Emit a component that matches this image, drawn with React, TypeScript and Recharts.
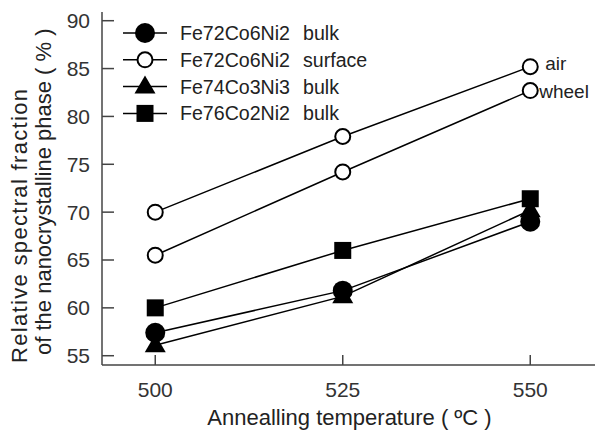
import { Label, Legend, Line, LineChart, XAxis, YAxis } from 'recharts'

const temps = [500, 525, 550]
const bulk7262 = [57.4, 61.8, 69.0]
const surfAir = [70.0, 77.9, 85.2]
const surfWheel = [65.5, 74.2, 82.7]
const bulk7433 = [56.1, 61.2, 70.2]
const bulk7622 = [60.0, 66.0, 71.4]

const xTicks = [500, 525, 550]
const yTicks = [55, 60, 65, 70, 75, 80, 85, 90]

const legendAlloys = ['Fe72Co6Ni2', 'Fe72Co6Ni2', 'Fe74Co3Ni3', 'Fe76Co2Ni2']
const legendKinds = ['bulk', 'surface', 'bulk', 'bulk']
const legendMarkers = ['filledCircle', 'openCircle', 'triangle', 'square']

const data = temps.map((t, i) => ({
  t,
  bulk7262: bulk7262[i],
  surfAir: surfAir[i],
  surfWheel: surfWheel[i],
  bulk7433: bulk7433[i],
  bulk7622: bulk7622[i],
}))

const FONT = '"Liberation Sans", Arial, Helvetica, sans-serif'
const INK = '#222'
const AXIS = '#444'

function marker(kind: string, cx: number, cy: number, key?: number | string) {
  if (kind === 'filledCircle') return <circle key={key} cx={cx} cy={cy} r={10} fill="#000" />
  if (kind === 'openCircle')
    return <circle key={key} cx={cx} cy={cy} r={7.5} fill="#fff" stroke="#000" strokeWidth={2} />
  if (kind === 'triangle')
    return (
      <polygon key={key} points={`${cx},${cy - 11} ${cx - 10.5},${cy + 7} ${cx + 10.5},${cy + 7}`} fill="#000" />
    )
  return <rect key={key} x={cx - 8.5} y={cy - 8.5} width={17} height={17} fill="#000" />
}

const dotOf = (kind: string) => (props: any) => {
  const { cx, cy, index } = props
  if (cx == null || cy == null) return <g key={index} />
  return marker(kind, cx, cy, index)
}

const endLabel = (text: string, dx: number, dy: number) => (props: any) => {
  const { x, y, index } = props
  if (index !== 2) return null
  return (
    <text x={x + dx} y={y + dy} fill={INK} fontSize={19} fontFamily={FONT} dominantBaseline="central">
      {text}
    </text>
  )
}

function LegendBox() {
  return (
    <svg width={270} height={120} style={{ display: 'block' }}>
      {legendAlloys.map((name, i) => {
        const cy = 12 + i * 26.8
        return (
          <g key={i}>
            <line x1={3} x2={47} y1={cy} y2={cy} stroke="#000" strokeWidth={1.5} />
            {marker(legendMarkers[i], 25, cy)}
            <text x={60} y={cy} fontSize={19.6} fontFamily={FONT} fill={INK} dominantBaseline="central">
              {name}
            </text>
            <text x={183} y={cy} fontSize={19.6} fontFamily={FONT} fill={INK} dominantBaseline="central">
              {legendKinds[i]}
            </text>
          </g>
        )
      })}
    </svg>
  )
}

function YTitle() {
  return (
    <g fill={INK} fontFamily={FONT} fontSize={22}>
      <text transform="translate(27,363) rotate(-90)" textLength={274} lengthAdjust="spacing">
        Relative spectral fraction
      </text>
      <text transform="translate(51,355) rotate(-90)">of the nanocrystalline phase ( % )</text>
    </g>
  )
}

export default function App() {
  const tickStyle = { fontSize: 21, fontFamily: FONT, fill: '#333' }
  return (
    <div style={{ position: 'absolute', left: 0, top: 0, width: 600, height: 431, background: '#fff' }}>
      <LineChart width={600} height={431} data={data} margin={{ top: 12, right: 3, left: 2, bottom: 0 }}>
        <XAxis
          dataKey="t"
          type="number"
          domain={[492.9, 558.9]}
          ticks={xTicks}
          allowDataOverflow
          height={66}
          tickSize={-10}
          tickMargin={27}
          tick={tickStyle}
          stroke={AXIS}
          strokeWidth={1.5}
        >
          <Label
            value="Annealling temperature ( ºC )"
            position="insideBottom"
            offset={6}
            style={{ fontSize: 22, fontFamily: FONT, fill: INK }}
          />
        </XAxis>
        <XAxis
          xAxisId="top"
          orientation="top"
          dataKey="t"
          type="number"
          domain={[492.9, 558.9]}
          ticks={xTicks}
          allowDataOverflow
          height={0}
          tickLine={false}
          tickFormatter={() => ''}
          stroke={AXIS}
          strokeWidth={1.5}
        />
        <YAxis
          type="number"
          domain={[54.03, 90.91]}
          ticks={yTicks}
          allowDataOverflow
          width={100}
          tickSize={-12}
          tickMargin={24}
          tick={tickStyle}
          stroke={AXIS}
          strokeWidth={1.5}
          label={{ content: () => <YTitle /> }}
        />
        <YAxis
          yAxisId="right"
          orientation="right"
          type="number"
          domain={[54.03, 90.91]}
          ticks={yTicks}
          allowDataOverflow
          width={0}
          tickSize={-12}
          tickFormatter={() => ''}
          stroke={AXIS}
          strokeWidth={1.5}
        />
        <Legend
          layout="horizontal"
          verticalAlign="middle"
          align="center"
          wrapperStyle={{ left: 120, top: 21, width: 270, height: 120 }}
          content={() => <LegendBox />}
        />
        <Line dataKey="bulk7622" name="Fe76Co2Ni2 bulk" stroke="#000" strokeWidth={1.5} dot={dotOf('square')} isAnimationActive={false} />
        <Line dataKey="bulk7433" name="Fe74Co3Ni3 bulk" stroke="#000" strokeWidth={1.5} dot={dotOf('triangle')} isAnimationActive={false} />
        <Line dataKey="bulk7262" name="Fe72Co6Ni2 bulk" stroke="#000" strokeWidth={1.5} dot={dotOf('filledCircle')} isAnimationActive={false} />
        <Line
          dataKey="surfWheel"
          name="Fe72Co6Ni2 surface (wheel)"
          stroke="#000"
          strokeWidth={1.5}
          dot={dotOf('openCircle')}
          label={endLabel('wheel', 9, 1)}
          isAnimationActive={false}
        />
        <Line
          dataKey="surfAir"
          name="Fe72Co6Ni2 surface (air)"
          stroke="#000"
          strokeWidth={1.5}
          dot={dotOf('openCircle')}
          label={endLabel('air', 15, -3)}
          isAnimationActive={false}
        />
      </LineChart>
    </div>
  )
}
